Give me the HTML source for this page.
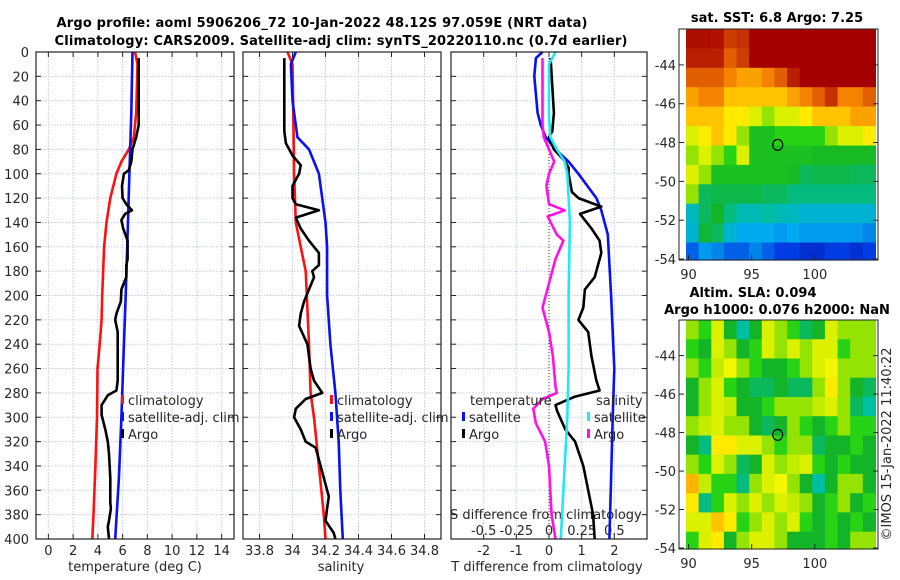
<!DOCTYPE html>
<html><head><meta charset="utf-8">
<style>
html,body{margin:0;padding:0;background:#fff;}
svg{display:block;font-family:"DejaVu Sans","Liberation Sans",sans-serif;}
</style></head>
<body>
<svg id="chart" width="900" height="580" viewBox="0 0 900 580" xmlns="http://www.w3.org/2000/svg">
<rect width="900" height="580" fill="#fff"/>
<text x="322" y="27" font-size="13" font-weight="bold" text-anchor="middle" textLength="531">Argo profile: aoml 5906206_72 10-Jan-2022 48.12S 97.059E (NRT data)</text>
<text x="341" y="45" font-size="13" font-weight="bold" text-anchor="middle" textLength="573">Climatology: CARS2009. Satellite-adj clim: synTS_20220110.nc (0.7d earlier)</text>
<g id="layer"></g>
</svg>
<script>
// ---------- data ----------
var depthTicks = [0,20,40,60,80,100,120,140,160,180,200,220,240,260,280,300,320,340,360,380,400];
var tempTicks = [0,2,4,6,8,10,12,14];
var salTicks = [33.8,34,34.2,34.4,34.6,34.8];
var salTickLabels = ["33.8","34","34.2","34.4","34.6","34.8"];
var tdiffTicks = [-2,-1,0,1,2];
var sdiffTicks = [-0.5,-0.25,0,0.25,0.5];
var sdiffTickLabels = ["-0.5","-0.25","0","0.25","0.5"];

var climTDepth = [0,10,50,70,80,90,100,120,140,160,200,220,240,260,280,300,340,380,400];
var climT      = [7.0,7.2,7.1,6.9,6.5,5.9,5.5,5.0,4.7,4.5,4.35,4.3,4.15,3.97,3.95,3.93,3.8,3.65,3.55];
var satTDepth  = [0,50,100,150,200,250,300,350,400];
var satT       = [6.8,6.7,6.55,6.4,6.25,6.07,5.9,5.7,5.4];
var argoTDepth = [5,60,70,80,90,97,100,110,120,125,130,133,138,145,155,170,175,185,195,205,215,220,230,240,270,278,282,290,298,310,320,330,350,370,375,385,390,400];
var argoT      = [7.3,7.3,7.1,6.8,6.7,6.5,6.1,5.95,6.0,6.3,6.75,6.2,5.9,6.05,6.4,6.4,6.3,6.3,5.9,5.85,5.5,5.4,5.6,5.6,5.6,5.5,4.8,4.3,4.3,4.6,4.8,4.9,5.0,5.0,5.05,4.9,4.8,4.9];

var climSDepth = [0,10,50,100,140,160,180,240,280,300,340,380,400];
var climS      = [33.97,34.0,34.005,34.01,34.02,34.05,34.08,34.1,34.11,34.13,34.16,34.19,34.2];
var satSDepth  = [0,10,40,60,70,80,90,100,120,140,160,200,240,280,320,360,400];
var satS       = [34.02,33.99,34.0,34.02,34.03,34.1,34.13,34.16,34.18,34.2,34.21,34.21,34.23,34.26,34.28,34.29,34.305];
var argoSDepth = [5,65,75,85,93,100,110,120,125,130,136,145,155,165,175,180,185,195,205,215,225,240,260,270,280,285,293,300,310,320,325,340,355,365,375,385,395,400];
var argoS      = [33.95,33.95,33.96,34.0,34.05,34.04,34.0,34.0,34.02,34.16,34.02,34.05,34.1,34.16,34.16,34.12,34.13,34.1,34.07,34.05,34.04,34.09,34.11,34.13,34.18,34.08,34.02,34.01,34.05,34.08,34.14,34.17,34.2,34.22,34.21,34.2,34.25,34.26];

var satTdDepth  = [0,5,20,50,60,70,80,90,100,120,130,150,200,260,300,350,400];
var satTd       = [-0.2,-0.4,-0.45,-0.35,-0.25,-0.1,0.2,0.6,0.9,1.45,1.6,1.8,1.9,2.0,1.95,1.9,1.85];
var argoTdDepth = [5,50,65,70,80,90,95,100,115,120,127,133,145,155,165,175,185,195,210,220,230,250,270,278,283,290,295,310,320,340,360,380,400];
var argoTd      = [0.05,0.15,0.1,0.0,0.15,0.5,0.6,0.6,0.7,0.9,1.6,0.95,1.3,1.55,1.6,1.5,1.4,1.1,1.05,0.9,1.2,1.3,1.45,1.55,0.8,0.2,0.25,0.5,0.8,1.05,1.2,1.35,1.4];
var satSdDepth  = [0,10,50,70,80,90,100,140,200,260,300,340,380,400];
var satSd       = [0.05,0.0,0.0,0.01,0.06,0.12,0.14,0.16,0.15,0.15,0.14,0.12,0.1,0.09];
var argoSdDepth = [5,60,70,80,90,100,110,125,130,135,150,155,170,190,210,230,250,275,280,285,293,305,320,340,380,400];
var argoSd      = [-0.05,-0.05,-0.04,0.0,0.04,0.0,-0.02,0.0,0.12,-0.01,0.06,0.11,0.05,0.0,-0.05,0.0,0.03,0.05,0.06,-0.05,-0.12,-0.1,-0.03,0.0,0.02,0.05];

// map fields (colormap index 0..1), rows north->south, cols west->east (1 deg)
var sstGrid = [
[0.98,0.98,0.97,0.9,0.92,1,1,1,1,1,1,1,1,1,1],
[0.95,0.95,0.95,0.85,0.9,1,1,1,1,1,1,1,1,1,1],
[0.85,0.85,0.85,0.8,0.75,0.75,0.8,0.85,0.95,1,1,1,1,1,1],
[0.75,0.8,0.8,0.7,0.7,0.7,0.7,0.7,0.75,0.8,0.85,0.92,0.8,0.8,0.85],
[0.7,0.7,0.7,0.65,0.65,0.6,0.55,0.6,0.6,0.65,0.7,0.7,0.7,0.75,0.75],
[0.6,0.65,0.7,0.65,0.55,0.47,0.47,0.5,0.5,0.5,0.5,0.55,0.6,0.6,0.65],
[0.55,0.6,0.55,0.5,0.6,0.47,0.47,0.47,0.47,0.47,0.46,0.46,0.46,0.46,0.46],
[0.6,0.55,0.47,0.47,0.47,0.47,0.47,0.47,0.46,0.42,0.43,0.43,0.43,0.42,0.42],
[0.55,0.42,0.43,0.43,0.43,0.43,0.42,0.42,0.4,0.4,0.4,0.4,0.4,0.4,0.4],
[0.35,0.42,0.45,0.4,0.36,0.36,0.38,0.36,0.35,0.33,0.33,0.33,0.33,0.33,0.33],
[0.33,0.44,0.42,0.33,0.3,0.3,0.3,0.28,0.3,0.28,0.28,0.28,0.28,0.28,0.25],
[0.2,0.28,0.25,0.2,0.2,0.25,0.2,0.15,0.15,0.12,0.12,0.15,0.15,0.12,0.15]];
var slaGrid = [
[0.55,0.5,0.6,0.45,0.38,0.45,0.6,0.55,0.5,0.42,0.45,0.6,0.55,0.55,0.55],
[0.5,0.45,0.6,0.55,0.45,0.5,0.6,0.55,0.6,0.55,0.6,0.6,0.5,0.55,0.55],
[0.55,0.5,0.58,0.62,0.55,0.5,0.45,0.45,0.5,0.55,0.6,0.62,0.55,0.55,0.55],
[0.45,0.55,0.6,0.5,0.45,0.42,0.42,0.45,0.42,0.42,0.55,0.65,0.55,0.45,0.42],
[0.45,0.55,0.6,0.58,0.45,0.45,0.5,0.55,0.55,0.55,0.58,0.6,0.55,0.42,0.38],
[0.55,0.58,0.6,0.55,0.55,0.45,0.42,0.45,0.55,0.5,0.45,0.5,0.55,0.5,0.5],
[0.45,0.4,0.65,0.65,0.6,0.6,0.55,0.5,0.55,0.55,0.42,0.45,0.45,0.5,0.45],
[0.55,0.5,0.6,0.55,0.42,0.45,0.6,0.55,0.58,0.6,0.5,0.45,0.5,0.45,0.45],
[0.72,0.58,0.5,0.5,0.4,0.55,0.6,0.62,0.55,0.45,0.38,0.45,0.55,0.55,0.45],
[0.65,0.4,0.5,0.6,0.55,0.6,0.55,0.6,0.58,0.55,0.45,0.5,0.55,0.45,0.5],
[0.6,0.6,0.7,0.65,0.5,0.55,0.6,0.55,0.6,0.5,0.45,0.5,0.45,0.5,0.45],
[0.5,0.6,0.65,0.45,0.55,0.6,0.6,0.55,0.45,0.45,0.45,0.5,0.45,0.55,0.55]];
var lonTicks = [90,95,100];
var latTicks = [-44,-46,-48,-50,-52,-54];
var argoLon = 97.06;
var argoLat = -48.12;

// ---------- drawing ----------
var NS = "http://www.w3.org/2000/svg";
var layer = document.getElementById('layer');
function mk(tag, attrs, parent){ var e=document.createElementNS(NS,tag); for(var k in attrs) e.setAttribute(k,attrs[k]); (parent||layer).appendChild(e); return e; }
function lin(d0,d1,r0,r1){ return function(v){ return r0+(v-d0)*(r1-r0)/(d1-d0); }; }

var Y0=52, Y1=539;
var yScale = lin(0,400,Y0,Y1);
var panels = [
 {x0:36,x1:234,dom:[-1,15],name:'temperature-panel'},
 {x0:243,x1:441,dom:[33.7,34.9],name:'salinity-panel'},
 {x0:451,x1:647,dom:[-3,3],name:'difference-panel'}];
panels.forEach(function(p){ p.xs = lin(p.dom[0],p.dom[1],p.x0,p.x1); });
var sdScale = lin(-0.75,0.75,451,647);

function drawGridAndFrame(p, xticks){
  var g = mk('g',{});
  
  
  xticks.forEach(function(t){
    var x=p.xs(t);
    var l=mk('line',{x1:x,x2:x,y1:Y0,y2:Y1,stroke:'#c4cae0','stroke-width':1,'stroke-dasharray':'1.5,1.5'},g);
     
    mk('line',{x1:x,x2:x,y1:Y0,y2:Y0+5,stroke:'#222','stroke-width':1},g);
    mk('line',{x1:x,x2:x,y1:Y1,y2:Y1-5,stroke:'#222','stroke-width':1},g);
  });
  depthTicks.forEach(function(d){
    var y=yScale(d);
    var l=mk('line',{x1:p.x0,x2:p.x1,y1:y,y2:y,stroke:'#c4cae0','stroke-width':1,'stroke-dasharray':'1.5,1.5'},g);
     
    mk('line',{x1:p.x0,x2:p.x0+5,y1:y,y2:y,stroke:'#222','stroke-width':1},g);
    mk('line',{x1:p.x1,x2:p.x1-5,y1:y,y2:y,stroke:'#222','stroke-width':1},g);
  });
  return g;
}
function frame(p){
  var r=mk('rect',{x:p.x0,y:Y0,width:p.x1-p.x0,height:Y1-Y0,fill:'none',stroke:'#222','stroke-width':1.2});
  
  
}
function line(xs, depths, vals, color, name){
  var pts = vals.map(function(v,i){ return xs(v).toFixed(1)+','+yScale(depths[i]).toFixed(1); }).join(' ');
  var pl = mk('polyline',{points:pts,fill:'none',stroke:color,'stroke-width':2.6,'stroke-linejoin':'round'});
  
  
}
function txt(x,y,s,opts){
  var a={x:x,y:y,'font-size':13,fill:'#262626'}; for(var k in (opts||{})) a[k]=opts[k];
  var t=mk('text',a); t.textContent=s; return t;
}

drawGridAndFrame(panels[0], tempTicks);
drawGridAndFrame(panels[1], salTicks);
drawGridAndFrame(panels[2], tdiffTicks);

var zl = mk('line',{x1:panels[2].xs(0),x2:panels[2].xs(0),y1:Y0,y2:Y1,stroke:'#333','stroke-width':1,'stroke-dasharray':'1,2'});



depthTicks.forEach(function(d){
  var t=txt(29,yScale(d)+5,String(d),{'text-anchor':'end'});
  
  
});
tempTicks.forEach(function(v){ var t=txt(panels[0].xs(v),555,String(v),{'text-anchor':'middle'});
    });
salTicks.forEach(function(v,i){ var t=txt(panels[1].xs(v),555,salTickLabels[i],{'text-anchor':'middle'});
    });
tdiffTicks.forEach(function(v){ var t=txt(panels[2].xs(v),555,String(v),{'text-anchor':'middle'});
    });
sdiffTicks.forEach(function(v,i){ var t=txt(sdScale(v),535,sdiffTickLabels[i],{'text-anchor':'middle'});
    });

var at;
at=txt(135,571,'temperature (deg C)',{'text-anchor':'middle'});  
at=txt(341,571,'salinity',{'text-anchor':'middle'});  
at=txt(547,571,'T difference from climatology',{'text-anchor':'middle'});  
at=txt(450,519,'S difference from climatology',{});  

line(panels[0].xs, climTDepth, climT, '#ff1010', 'temperature-climatology-line');
line(panels[0].xs, satTDepth, satT, '#0a10f0', 'temperature-satellite-line');
line(panels[0].xs, argoTDepth, argoT, '#000', 'temperature-argo-line');
line(panels[1].xs, climSDepth, climS, '#ff1010', 'salinity-climatology-line');
line(panels[1].xs, satSDepth, satS, '#0a10f0', 'salinity-satellite-line');
line(panels[1].xs, argoSDepth, argoS, '#000', 'salinity-argo-line');
line(panels[2].xs, satTdDepth, satTd, '#0a10f0', 't-diff-satellite-line');
line(panels[2].xs, argoTdDepth, argoTd, '#000', 't-diff-argo-line');
line(sdScale, satSdDepth, satSd, '#22e8f0', 's-diff-satellite-line');
line(sdScale, argoSdDepth, argoSd, '#ff10e8', 's-diff-argo-line');

panels.forEach(frame);

function legendEntry(x,y,color,label,name){
  var g=mk('g',{});
  
  
  mk('rect',{x:x,y:y-10,width:3,height:9,fill:color},g);
  var t=mk('text',{x:x+7,y:y,'font-size':13,fill:'#262626'},g); t.textContent=label;
}
legendEntry(121,405,'#ff1010','climatology','legend-climatology');
legendEntry(121,422,'#0a10f0','satellite-adj. clim','legend-satellite-adj');
legendEntry(121,439,'#000','Argo','legend-argo');
legendEntry(330,405,'#ff1010','climatology','legend-sal-climatology');
legendEntry(330,422,'#0a10f0','satellite-adj. clim','legend-sal-satellite-adj');
legendEntry(330,439,'#000','Argo','legend-sal-argo');
at=txt(470,405,'temperature',{});  
at=txt(596,405,'salinity',{});  
legendEntry(462,422,'#0a10f0','satellite','legend-tdiff-satellite');
legendEntry(462,439,'#000','Argo','legend-tdiff-argo');
legendEntry(587,422,'#22e8f0','satellite','legend-sdiff-satellite');
legendEntry(587,439,'#ff10e8','Argo','legend-sdiff-argo');

// ---------- maps ----------
var cmStops = [[0,[0,0,140]],[0.15,[0,60,225]],[0.3,[0,170,240]],[0.38,[0,190,160]],[0.45,[20,180,40]],[0.5,[40,210,20]],[0.56,[170,230,0]],[0.63,[255,250,0]],[0.7,[255,195,0]],[0.8,[245,130,0]],[0.9,[205,60,0]],[1,[165,0,0]]];
function cmap(v){
  v=Math.max(0,Math.min(1,v));
  for(var i=1;i<cmStops.length;i++){
    if(v<=cmStops[i][0]){
      var a=cmStops[i-1], b=cmStops[i], t=(v-a[0])/(b[0]-a[0]);
      return 'rgb('+[0,1,2].map(function(k){return Math.round(a[1][k]+(b[1][k]-a[1][k])*t);}).join(',')+')';
    }
  }
  return 'rgb(165,0,0)';
}
var LON0=89.8, LON1=105, LAT0=-54.05, LAT1=-42.15;
function drawMap(grid, top, bottom, name){
  var xs=lin(LON0,LON1,686,878), ys=lin(LAT1,LAT0,top,bottom);
  var g=mk('g',{});
  
  
  mk('rect',{x:679,y:top,width:199,height:bottom-top,fill:'#fff'},g);
  grid.forEach(function(row,i){
    row.forEach(function(v,j){
      var lo=LON0+j, la=LAT1-i;
      var x=xs(lo), y=ys(la), w=xs(Math.min(lo+1,LON1))-x, h=ys(Math.max(la-1,LAT0))-y;
      var r=mk('rect',{x:x.toFixed(1),y:y.toFixed(1),width:(w+0.6).toFixed(1),height:(h+0.6).toFixed(1),fill:cmap(v)},g);
      
      
    });
  });
  mk('rect',{x:679,y:top,width:199,height:bottom-top,fill:'none',stroke:'#222','stroke-width':1},g);
  latTicks.forEach(function(la){
    var y=ys(la);
    mk('line',{x1:679,x2:684,y1:y,y2:y,stroke:'#222'},g);
    mk('line',{x1:878,x2:873,y1:y,y2:y,stroke:'#222'},g);
    var t=mk('text',{x:676,y:y+5,'font-size':13,fill:'#262626','text-anchor':'end'},g); t.textContent=String(la);
     
  });
  lonTicks.forEach(function(lo){
    var x=xs(lo);
    mk('line',{x1:x,x2:x,y1:bottom,y2:bottom-5,stroke:'#222'},g);
    var t=mk('text',{x:x,y:bottom+19,'font-size':13,fill:'#262626','text-anchor':'middle'},g); t.textContent=String(lo);
     
  });
  var c=mk('ellipse',{cx:xs(argoLon),cy:ys(argoLat),rx:5,ry:5.5,fill:'none',stroke:'#000','stroke-width':1.2},g);
  
  
}
drawMap(sstGrid, 29, 260, 'sst-map');
drawMap(slaGrid, 320, 549, 'sla-map');

at=txt(777,22,'sat. SST: 6.8 Argo: 7.25',{'text-anchor':'middle','font-weight':'bold','fill':'#000'});  
at=txt(753,297,'Altim. SLA: 0.094',{'text-anchor':'middle','font-weight':'bold','fill':'#000'});  
at=txt(777,314,'Argo h1000: 0.076 h2000: NaN',{'text-anchor':'middle','font-weight':'bold','fill':'#000'});  
at=txt(0,0,'©IMOS 15-Jan-2022 11:40:22',{'text-anchor':'middle','transform':'translate(891,444) rotate(-90)'});  
</script>
</body></html>
